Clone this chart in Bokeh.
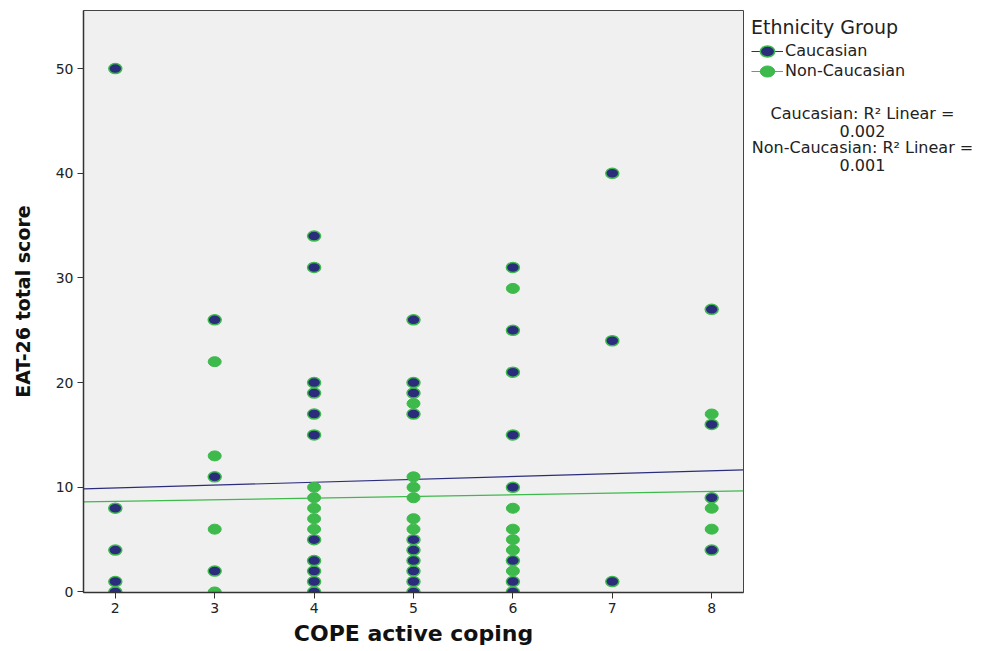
import numpy as np
from bokeh.plotting import figure
from bokeh.layouts import row
from bokeh.models import Range1d, Legend, LegendItem, Label, FixedTicker, ColumnDataSource
from bokeh.embed import file_html
from bokeh.resources import INLINE

# ---- data ----
cauc_x = [2, 2, 2, 2, 2,
          3, 3, 3,
          4, 4, 4, 4, 4, 4, 4, 4, 4, 4, 4,
          5, 5, 5, 5, 5, 5, 5, 5, 5, 5,
          6, 6, 6, 6, 6, 6, 6, 6,
          7, 7, 7,
          8, 8, 8, 8]
cauc_y = [50, 8, 4, 1, 0,
          26, 11, 2,
          34, 31, 20, 19, 17, 15, 5, 3, 2, 1, 0,
          26, 20, 19, 17, 5, 4, 3, 2, 1, 0,
          31, 25, 21, 15, 10, 3, 1, 0,
          40, 24, 1,
          27, 16, 9, 4]

non_x = [3, 3, 3, 3,
         4, 4, 4, 4, 4,
         5, 5, 5, 5, 5, 5,
         6, 6, 6, 6, 6, 6,
         8, 8, 8]
non_y = [22, 13, 6, 0,
         10, 9, 8, 7, 6,
         18, 11, 10, 9, 7, 6,
         29, 8, 6, 5, 4, 2,
         17, 8, 6]

# fit lines (intercept, slope)
cauc_fit = (9.39, 0.273)
non_fit = (8.33, 0.16)
r2_labels = ["Caucasian: R\u00b2 Linear =", "0.002", "Non-Caucasian: R\u00b2 Linear =", "0.001"]
group_labels = ["Caucasian", "Non-Caucasian"]
legend_title = "Ethnicity Group"

x_ticks = [2, 3, 4, 5, 6, 7, 8]
y_ticks = [0, 10, 20, 30, 40, 50]

NAVY = "#2b2d7c"
GREEN = "#3dba4b"
FONT = "DejaVu Sans"
TXT = "#222222"

TOP, BOTTOM = 10, 59

x_range = Range1d(1.68, 8.32)
y_range = Range1d(-0.05, 55.55)

p = figure(width=745, height=651, x_range=x_range, y_range=y_range,
           output_backend="svg", toolbar_location=None,
           min_border_left=83, min_border_right=2, min_border_top=TOP, min_border_bottom=BOTTOM)

p.background_fill_color = "#f0f0f0"
p.border_fill_color = "white"
p.outline_line_color = "#444444"
p.outline_line_width = 1
p.grid.visible = False

# fit lines
fx = np.array([x_range.start, x_range.end])
p.line(fx, cauc_fit[0] + cauc_fit[1] * fx, line_color=NAVY, line_width=1.2)
p.line(fx, non_fit[0] + non_fit[1] * fx, line_color=GREEN, line_width=1.2)

# points
src_n = ColumnDataSource(dict(x=non_x, y=non_y))
src_c = ColumnDataSource(dict(x=cauc_x, y=cauc_y))
p.ellipse("x", "y", width=13, height=10, width_units="screen", height_units="screen",
          source=src_n, fill_color=GREEN, line_color=GREEN, line_width=1)
p.ellipse("x", "y", width=13, height=10, width_units="screen", height_units="screen",
          source=src_c, fill_color=NAVY, line_color=GREEN, line_width=1.5)

# axes
for ax in (p.xaxis[0], p.yaxis[0]):
    ax.axis_line_color = "#333333"
    ax.axis_line_width = 1.5
    ax.major_tick_line_color = "#333333"
    ax.major_tick_out = 6
    ax.major_tick_in = 0
    ax.minor_tick_line_color = None
    ax.major_label_text_font = FONT
    ax.major_label_text_font_size = "14px"
    ax.major_label_text_color = TXT
    ax.axis_label_text_font = FONT
    ax.axis_label_text_font_style = "bold"
    ax.axis_label_text_color = "#111111"

p.xaxis.ticker = FixedTicker(ticks=x_ticks)
p.yaxis.ticker = FixedTicker(ticks=y_ticks)
p.xaxis.axis_label = "COPE active coping"
p.yaxis.axis_label = "EAT-26 total score"
p.xaxis.axis_label_text_font_size = "22px"
p.yaxis.axis_label_text_font_size = "19px"
p.xaxis.axis_label_standoff = 5
p.yaxis.axis_label_standoff = 19
p.xaxis.major_label_standoff = 4
p.yaxis.major_label_standoff = 4

# ---- side panel with legend and R^2 notes (panel coordinates = pixels) ----
q = figure(width=238, height=651, x_range=Range1d(0, 238), y_range=Range1d(651 - BOTTOM, TOP),
           output_backend="svg", toolbar_location=None, title=None,
           x_axis_location=None, y_axis_location=None,
           min_border_left=0, min_border_right=0, min_border_bottom=BOTTOM, min_border_top=TOP,
           outline_line_color=None)
q.grid.visible = False
q.background_fill_color = "white"
q.border_fill_color = "white"

hidden = ColumnDataSource(dict(x=[-1000, -999], y=[-1000, -1000]))
l1 = q.line("x", "y", source=hidden, line_color=NAVY, line_width=1.2)
m1 = q.ellipse("x", "y", source=hidden, width=13, height=10, width_units="screen",
               height_units="screen", fill_color=NAVY, line_color=GREEN, line_width=1.5)
l2 = q.line("x", "y", source=hidden, line_color=GREEN, line_width=1.2)
m2 = q.ellipse("x", "y", source=hidden, width=13, height=10, width_units="screen",
               height_units="screen", fill_color=GREEN, line_color=GREEN, line_width=1)

legend = Legend(items=[LegendItem(label=group_labels[0], renderers=[l1, m1], index=0),
                       LegendItem(label=group_labels[1], renderers=[l2, m2], index=0)],
                location="top_left")
legend.title = legend_title
legend.title_text_font = FONT
legend.title_text_font_size = "19px"
legend.title_text_font_style = "normal"
legend.title_text_color = TXT
legend.title_standoff = 3
legend.label_text_font = FONT
legend.label_text_font_size = "16px"
legend.label_text_color = TXT
legend.glyph_width = 32
legend.glyph_height = 18
legend.label_height = 18
legend.spacing = 1
legend.label_standoff = 2
legend.padding = 5
legend.margin = 6
legend.border_line_color = None
legend.background_fill_alpha = 0
q.add_layout(legend, "center")

for i, t in enumerate(r2_labels):
    q.add_layout(Label(x=117, y=113 + 17 * i, text=t, text_align="center",
                       text_baseline="middle", text_font=FONT, text_font_size="16px",
                       text_color=TXT))

open("out.html", "w").write(file_html(row(p, q), INLINE))
